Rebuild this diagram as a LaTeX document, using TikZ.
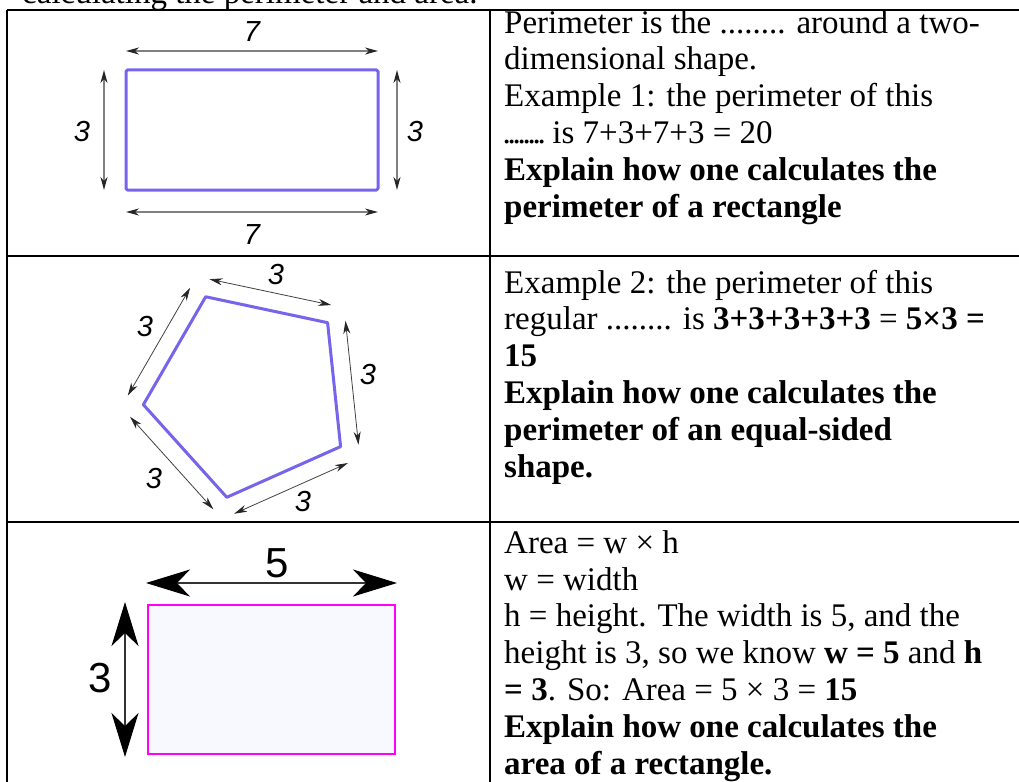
\documentclass[tikz,border=0pt]{standalone}
\usepackage{fontspec}
\setmainfont{Liberation Serif}
\newfontfamily\dimsans{Liberation Sans}
\usetikzlibrary{arrows.meta, calc}

\definecolor{shapepurple}{RGB}{118,100,235}
\definecolor{areapink}{RGB}{255,0,255}
\definecolor{areafill}{RGB}{248,248,255}
\newcommand\tightdots{\hbox to 40pt{\xleaders\hbox to 5pt{\hss.\hss}\hfill}}

\begin{document}
\begin{tikzpicture}[x=1pt, y=-1pt,
      rule/.style={line width=1.6pt, draw=black},
      cell/.style={anchor=base west, inner sep=0pt, align=left,
                   font=\fontsize{33}{36.8}\selectfont},
      dimlbl/.style={inner sep=0pt, font=\dimsans\itshape\fontsize{29}{29}\selectfont},
      arealbl/.style={inner sep=0pt, font=\dimsans\fontsize{42}{42}\selectfont},
      outline/.style={draw=shapepurple, line width=3pt, line join=round},
      dimarr/.style={{Stealth[length=13pt, width=7pt, inset=4pt, color=black!85]}-{Stealth[length=13pt, width=7pt, inset=4pt, color=black!85]},
                     line width=1.2pt, draw=black!50},
      polyarr/.style={dimarr, line width=0.8pt, draw=black!75},
      bigarr/.style={{Stealth[length=44pt, width=27pt, inset=13pt, color=black]}-{Stealth[length=44pt, width=27pt, inset=13pt, color=black]},
                     line width=2pt, draw=black!80}]
    \useasboundingbox (0,0) rectangle (1019,781);
    \clip (0,0) rectangle (1019,781);
    \node[cell] (title) at (22,4) {calculating the perimeter and area.};
    % table rules
    \foreach \y in {10,256,522}
      \draw[rule] (7,\y) -- (1030,\y);
    \foreach \x in {7,490}
      \draw[rule] (\x,10) -- (\x,790);

    % row 1: rectangle 7 x 3
    \draw[outline, rounded corners=1.5pt] (126,70) rectangle (378,190);
    \coordinate (aw) at (126,51);  \coordinate (ae) at (378,51);
    \coordinate (bw) at (126,212); \coordinate (be) at (378,212);
    \coordinate (ln) at (104,70);  \coordinate (ls) at (104,190);
    \coordinate (rn) at (397,70);  \coordinate (rs) at (397,190);
    \draw[dimarr] (aw) -- (ae);
    \draw[dimarr] (bw) -- (be);
    \draw[dimarr] (ln) -- (ls);
    \draw[dimarr] (rn) -- (rs);
    \node[dimlbl] (top7) at (252,32)  {7};
    \node[dimlbl] (bot7) at (252,235) {7};
    \node[dimlbl] (lft3) at (82,132)  {3};
    \node[dimlbl] (rgt3) at (415,132) {3};

    % row 2: regular pentagon
    \coordinate (pc) at (248.8,393.6);
    \foreach \k in {0,...,4}
      \coordinate (p\k) at ($(pc)+({-42-72*\k}:106)$);
    \draw[outline] (p0) -- (p1) -- (p2) -- (p3) -- (p4) -- cycle;
    \foreach \k/\j in {0/1,1/2,2/3,3/4,4/0}
      \draw[polyarr] ($(p\k)+({-78-72*\k}:18)$) -- ($(p\j)+({-78-72*\k}:18)$);
    \node[dimlbl] (s1) at (276,275) {3};
    \node[dimlbl] (s2) at (368,375) {3};
    \node[dimlbl] (s3) at (145,327) {3};
    \node[dimlbl] (s4) at (154,479) {3};
    \node[dimlbl] (s5) at (303,502) {3};

    % row 3: area rectangle 5 x 3
    \draw[draw=areapink, fill=areafill, line width=2pt] (148,605) rectangle (395,754);
    \coordinate (hw) at (146,583); \coordinate (he) at (397,583);
    \coordinate (vn) at (125,602); \coordinate (vs) at (125,757);
    \draw[bigarr] (hw) -- (he);
    \draw[bigarr] (vn) -- (vs);
    \node[arealbl] (w5) at (277,563) {5};
    \node[arealbl] (h3) at (100,678) {3};

    % text column (anchored on the baseline of the last line)
    \node[cell] (c1) at (504,217) {Perimeter is the ........ around a two-\\
      dimensional shape.\\
      Example 1: the perimeter of this\\
      \tightdots\ is 7+3+7+3 = 20\\
      \textbf{Explain how one calculates the}\\
      \textbf{perimeter of a rectangle}};
    \node[cell] (c2) at (504,477) {Example 2: the perimeter of this\\
      regular ........ is \textbf{3+3+3+3+3} = \textbf{5×3 =}\\
      \textbf{15}\\
      \textbf{Explain how one calculates the}\\
      \textbf{perimeter of an equal-sided}\\
      \textbf{shape.}};
    \node[cell] (c3) at (504,774) {Area = w × h\\
      w = width\\
      h = height. The width is 5, and the\\
      height is 3, so we know \textbf{w = 5} and \textbf{h}\\
      \textbf{= 3}. So: Area = 5 × 3 = \textbf{15}\\
      \textbf{Explain how one calculates the}\\
      \textbf{area of a rectangle.}};
  \end{tikzpicture}
\end{document}
